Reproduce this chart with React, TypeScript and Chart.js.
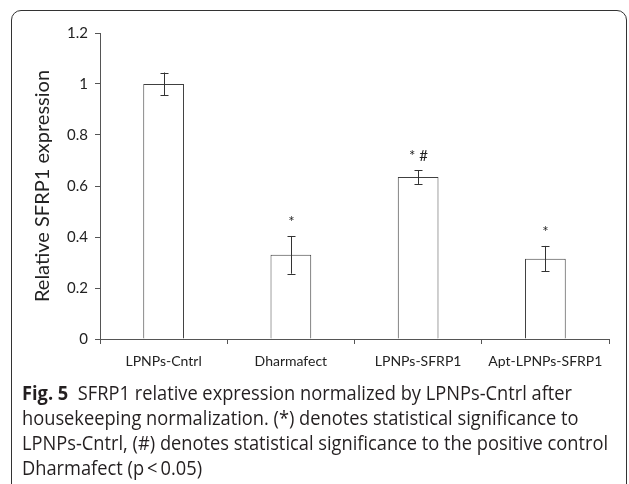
import React, { useEffect, useRef } from "react";
import { Chart, registerables } from "chart.js";

Chart.register(...registerables);

const categories = ["LPNPs-Cntrl", "Dharmafect", "LPNPs-SFRP1", "Apt-LPNPs-SFRP1"];
const values = [1.0, 0.33, 0.635, 0.315];
const errors = [0.045, 0.074, 0.027, 0.05];
const significance = ["", "*", "* #", "*"];
const yTicks = [0, 0.2, 0.4, 0.6, 0.8, 1, 1.2];
const yTitle = "Relative SFRP1 expression";
const captionLines = [
  ["Fig. 5", "  SFRP1 relative expression normalized by LPNPs-Cntrl after"],
  ["", "housekeeping normalization. (*) denotes statistical significance to"],
  ["", "LPNPs-Cntrl, (#) denotes statistical significance to the positive control"],
  ["", "Dharmafect (p\u2009<\u20090.05)"],
];

const AXIS = "#555555";
const TEXT = "#222222";
const FONT = "Lato, 'Open Sans', sans-serif";

const errorBarPlugin = {
  id: "errorBars",
  afterDatasetsDraw(chart: any) {
    const ctx = chart.ctx;
    const meta = chart.getDatasetMeta(0);
    const y = chart.scales.y;
    ctx.save();
    ctx.strokeStyle = "#333333";
    ctx.lineWidth = 1;
    meta.data.forEach((bar: any, i: number) => {
      const x = Math.round(bar.x) + 0.5;
      const top = y.getPixelForValue(values[i] + errors[i]);
      const bot = y.getPixelForValue(values[i] - errors[i]);
      ctx.beginPath();
      ctx.moveTo(x, top);
      ctx.lineTo(x, bot);
      ctx.moveTo(x - 4, Math.round(top) + 0.5);
      ctx.lineTo(x + 4, Math.round(top) + 0.5);
      ctx.moveTo(x - 4, Math.round(bot) + 0.5);
      ctx.lineTo(x + 4, Math.round(bot) + 0.5);
      ctx.stroke();
      if (significance[i]) {
        ctx.fillStyle = TEXT;
        ctx.font = `15px ${FONT}`;
        ctx.textAlign = "center";
        ctx.textBaseline = "middle";
        ctx.fillText(significance[i], x, top - 14);
      }
    });
    ctx.restore();
  },
};

export default function App() {
  const canvasRef = useRef<HTMLCanvasElement | null>(null);
  const capRef = useRef<HTMLDivElement | null>(null);
  const refLineRef = useRef<HTMLSpanElement | null>(null);

  useEffect(() => {
    if (!canvasRef.current) return;
    const chart = new Chart(canvasRef.current, {
      type: "bar",
      data: {
        labels: categories,
        datasets: [
          {
            data: values,
            backgroundColor: "#ffffff",
            borderColor: "#404040",
            borderWidth: 1,
            barPercentage: 0.32,
            categoryPercentage: 1.0,
          },
        ],
      },
      options: {
        responsive: false,
        animation: false,
        devicePixelRatio: 1,
        layout: { padding: { left: 0, top: 33, right: 20, bottom: 0 } },
        plugins: { legend: { display: false }, tooltip: { enabled: false } },
        scales: {
          x: {
            afterFit: (s: any) => {
              s.height = 41;
            },
            grid: { display: true, drawOnChartArea: false, drawTicks: true, tickLength: 5, color: AXIS, offset: true },
            border: { display: true, color: AXIS },
            ticks: { color: TEXT, font: { family: FONT, size: 14 }, padding: 9 },
          },
          y: {
            min: 0,
            max: 1.2,
            afterFit: (s: any) => {
              s.width = 100;
            },
            afterBuildTicks: (s: any) => {
              s.ticks = yTicks.map((v) => ({ value: v }));
            },
            grid: { display: true, drawOnChartArea: false, drawTicks: true, tickLength: 5, color: AXIS },
            border: { display: true, color: AXIS },
            ticks: {
              color: TEXT,
              font: { family: FONT, size: 15 },
              padding: 7,
              callback: (v: any) => String(Number(Number(v).toFixed(1))),
            },
            title: {
              display: true,
              text: yTitle,
              color: TEXT,
              font: { family: FONT, size: 20 },
              padding: { top: 31, bottom: 0 },
            },
          },
        },
      },
      plugins: [errorBarPlugin],
    });

    // fit caption width
    if (capRef.current && refLineRef.current) {
      const w = refLineRef.current.getBoundingClientRect().width;
      if (w > 0) capRef.current.style.transform = `scaleX(${586 / w})`;
    }
    return () => chart.destroy();
  }, []);

  return (
    <div
      style={{
        position: "absolute",
        left: 0,
        top: 0,
        width: 629,
        height: 484,
        overflow: "hidden",
        background: "#ffffff",
      }}
    >
      <div
        style={{
          position: "absolute",
          left: 11,
          top: 10,
          width: 616,
          height: 520,
          border: "1px solid #333",
          borderRadius: 10,
          boxSizing: "border-box",
        }}
      />
      <canvas ref={canvasRef} width={629} height={380} style={{ position: "absolute", left: 0, top: 0 }} />
      <div
        ref={capRef}
        style={{
          position: "absolute",
          left: 22,
          top: 380,
          transformOrigin: "left top",
          fontFamily: "'Open Sans', sans-serif",
          fontSize: 19.5,
          lineHeight: "25px",
          color: "#231f20",
          whiteSpace: "pre",
        }}
      >
        {captionLines.map((ln, i) => (
          <div key={i}>
            <span ref={i === 2 ? refLineRef : undefined} style={{ display: "inline-block" }}>
              {ln[0] ? <b>{ln[0]}</b> : null}
              {ln[1]}
            </span>
          </div>
        ))}
      </div>
    </div>
  );
}
